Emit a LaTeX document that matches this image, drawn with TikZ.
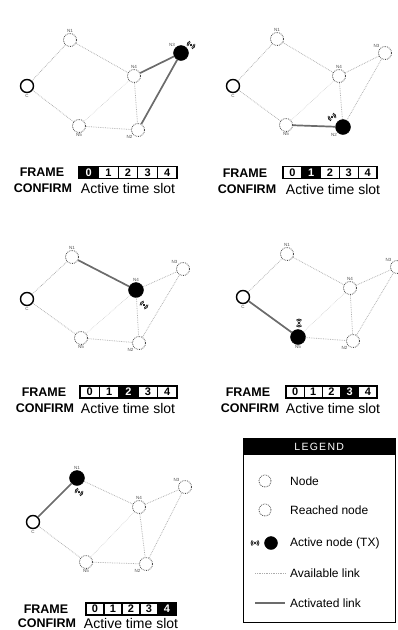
\documentclass[tikz,border=0pt]{standalone}
\usepackage{fontspec}
\setmainfont{Liberation Sans}
\tikzset{
  netnode/.style={circle,draw=gray!60!black,line width=0.8pt,densely dotted,minimum size=13pt,inner sep=0pt,fill=white},
  coordnode/.style={circle,draw=black,line width=1.4pt,minimum size=13pt,inner sep=0pt,fill=white},
  activenode/.style={circle,fill=black,draw=black,minimum size=15pt,inner sep=0pt},
  avail/.style={draw=gray!65,line width=0.75pt,densely dotted},
  faint/.style={draw=gray!40,line width=0.6pt,densely dotted},
  activ/.style={draw=gray!85!black,line width=1.7pt},
  tinylbl/.style={font=\fontsize{4.5}{5}\selectfont,text=gray!60!black,inner sep=0.6pt},
  framelbl/.style={font=\bfseries\fontsize{12.5}{13}\selectfont,inner sep=0pt},
  slotlbl/.style={font=\fontsize{14}{14}\selectfont,inner sep=0pt},
  slotcell/.style={draw=black,line width=1.1pt,minimum height=12pt,inner sep=0pt,fill=white,font=\bfseries\fontsize{11}{11}\selectfont},
  slotactive/.style={slotcell,fill=black,text=white},
  legtext/.style={font=\fontsize{12}{13}\selectfont,anchor=west,inner sep=0pt},
  radiosym/.pic={
    \fill[gray!25!black] (0,0) circle (1.3pt);
    \foreach \r in {2.6,4.0}{
      \draw[gray!25!black,line width=0.8pt] (-45:\r pt) arc[start angle=-45,end angle=45,radius=\r pt];
      \draw[gray!25!black,line width=0.8pt] (135:\r pt) arc[start angle=135,end angle=225,radius=\r pt];
    }
  },
}
\newcommand\slotbar[5]{%
  \foreach \k in {0,...,4}{%
    \ifnum\k=#4\relax
      \node[slotactive,minimum width=#5pt] (#1-s\k) at ({#2+#5*(\k+0.5)},#3) {\k};
    \else
      \node[slotcell,minimum width=#5pt] (#1-s\k) at ({#2+#5*(\k+0.5)},#3) {\k};
    \fi
  }}
\newcommand\netlinks[1]{%
  \foreach \a/\b in {C/N1,N1/N4,N4/N3,N4/N2,C/N5,N5/N2,N2/N3}{\draw[avail] (#1-\a) -- (#1-\b);}
  \draw[faint] (#1-N4) -- (#1-N5);
}
\begin{document}
\begin{tikzpicture}[x=1pt,y=-1pt]
\useasboundingbox (0,0) rectangle (398,630);
\clip (0,0) rectangle (398,630);

% ---------- Panel 1 (slot 0)
\node[coordnode,label={[tinylbl]below:C}] (p1-C) at (27,86) {};
\node[netnode,label={[tinylbl]above:N1}] (p1-N1) at (70,40) {};
\node[netnode,label={[tinylbl]above:N4}] (p1-N4) at (134,76) {};
\node[activenode,label={[tinylbl]above left:N3}] (p1-N3) at (181,53) {};
\node[netnode,label={[tinylbl]below:N5}] (p1-N5) at (79,126) {};
\node[netnode,label={[tinylbl]below left:N2}] (p1-N2) at (138,130) {};
\netlinks{p1}
\draw[activ] (p1-N4) -- (p1-N3);
\draw[activ] (p1-N3) -- (p1-N2);
\pic[rotate=-30] at (191,45) {radiosym};
\node[framelbl] (p1-frame) at (42,172) {FRAME};
\node[framelbl] (p1-confirm) at (43,188) {CONFIRM};
\node[slotlbl] (p1-ats) at (128,188) {Active time slot};
\slotbar{p1}{79}{172.5}{0}{19.6}

% ---------- Panel 2 (slot 1)
\node[coordnode,label={[tinylbl]below:C}] (p2-C) at (233,86) {};
\node[netnode,label={[tinylbl]above:N1}] (p2-N1) at (277,39) {};
\node[netnode,label={[tinylbl]above:N4}] (p2-N4) at (339,76) {};
\node[netnode,label={[tinylbl]above left:N3}] (p2-N3) at (385,53) {};
\node[netnode,label={[tinylbl]below:N5}] (p2-N5) at (286,125) {};
\node[activenode,label={[tinylbl]below left:N2}] (p2-N2) at (343,127) {};
\netlinks{p2}
\draw[activ] (p2-N5) -- (p2-N2);
\pic[rotate=30] at (332,117) {radiosym};
\node[framelbl] (p2-frame) at (245,173) {FRAME};
\node[framelbl] (p2-confirm) at (247,189) {CONFIRM};
\node[slotlbl] (p2-ats) at (333,189) {Active time slot};
\slotbar{p2}{283}{172.5}{1}{18.8}

% ---------- Panel 3 (slot 2)
\node[coordnode,label={[tinylbl]below:C}] (p3-C) at (27,299) {};
\node[netnode,label={[tinylbl]above:N1}] (p3-N1) at (72,257) {};
\node[activenode,label={[tinylbl]above:N4}] (p3-N4) at (136,290) {};
\node[netnode,label={[tinylbl]above left:N3}] (p3-N3) at (183,269) {};
\node[netnode,label={[tinylbl]below:N5}] (p3-N5) at (81,338) {};
\node[netnode,label={[tinylbl]below left:N2}] (p3-N2) at (139,343) {};
\netlinks{p3}
\draw[activ] (p3-N1) -- (p3-N4);
\pic[rotate=-40] at (144,305) {radiosym};
\node[framelbl] (p3-frame) at (44,392) {FRAME};
\node[framelbl] (p3-confirm) at (45,408) {CONFIRM};
\node[slotlbl] (p3-ats) at (128,408) {Active time slot};
\slotbar{p3}{80}{392}{2}{19.4}

% ---------- Panel 4 (slot 3)
\node[coordnode,label={[tinylbl]below:C}] (p4-C) at (243,297) {};
\node[netnode,label={[tinylbl]above:N1}] (p4-N1) at (287,254) {};
\node[netnode,label={[tinylbl]above:N4}] (p4-N4) at (350,288) {};
\node[netnode,label={[tinylbl]above left:N3}] (p4-N3) at (397,267) {};
\node[activenode,label={[tinylbl]below:N5}] (p4-N5) at (298,337) {};
\node[netnode,label={[tinylbl]below left:N2}] (p4-N2) at (353,341) {};
\netlinks{p4}
\draw[activ] (p4-C) -- (p4-N5);
\pic[rotate=90] at (299,323) {radiosym};
\node[framelbl] (p4-frame) at (248,392) {FRAME};
\node[framelbl] (p4-confirm) at (250,408) {CONFIRM};
\node[slotlbl] (p4-ats) at (333,408) {Active time slot};
\slotbar{p4}{286}{392}{3}{18.2}

% ---------- Panel 5 (slot 4)
\node[coordnode,label={[tinylbl]below:C}] (p5-C) at (33,522) {};
\node[activenode,label={[tinylbl]above:N1}] (p5-N1) at (77,478) {};
\node[netnode,label={[tinylbl]above:N4}] (p5-N4) at (139,507) {};
\node[netnode,label={[tinylbl]above left:N3}] (p5-N3) at (185,487) {};
\node[netnode,label={[tinylbl]below:N5}] (p5-N5) at (86,562) {};
\node[netnode,label={[tinylbl]below left:N2}] (p5-N2) at (146,564) {};
\netlinks{p5}
\draw[activ] (p5-C) -- (p5-N1);
\pic[rotate=-30] at (79,492) {radiosym};
\node[framelbl] (p5-frame) at (46,609) {FRAME};
\node[framelbl] (p5-confirm) at (47,623) {CONFIRM};
\node[slotlbl] (p5-ats) at (131,623) {Active time slot};
\slotbar{p5}{86}{609}{4}{18}

% ---------- Legend
\node[draw=black,line width=1pt,minimum width=152pt,minimum height=184pt,anchor=north west,inner sep=0pt] (legbox) at (243,438) {};
\node[fill=black,minimum width=152pt,minimum height=17pt,anchor=north west,inner sep=0pt] (leghead) at (243,438) {};
\node[text=white,font=\fontsize{10.5}{10.5}\selectfont\addfontfeatures{LetterSpace=12},inner sep=0pt] (legtitle) at (leghead.center) {LEGEND};
\node[netnode,minimum size=12pt] (lg-node) at (265,481) {};
\node[legtext] (lg-nodet) at (290,481) {Node};
\node[netnode,minimum size=12pt] (lg-reached) at (265,510) {};
\node[legtext] (lg-reachedt) at (290,510) {Reached node};
\node[activenode,minimum size=13pt] (lg-active) at (271,543) {};
\pic[rotate=0] at (255,543) {radiosym};
\node[legtext] (lg-activet) at (290,543) {Active node (TX)};
\coordinate (lg-a1) at (255,573);
\coordinate (lg-a2) at (285,573);
\draw[avail] (lg-a1) -- (lg-a2);
\node[legtext] (lg-availt) at (290,573) {Available link};
\coordinate (lg-b1) at (255,603);
\coordinate (lg-b2) at (285,603);
\draw[activ] (lg-b1) -- (lg-b2);
\node[legtext] (lg-activt) at (290,603) {Activated link};
\end{tikzpicture}
\end{document}
